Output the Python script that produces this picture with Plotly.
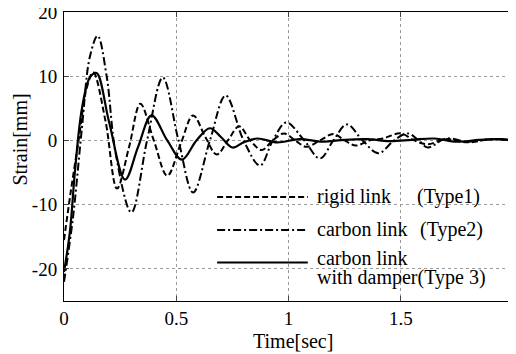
import plotly.graph_objects as go

# Type1: rigid link (dashed)
t_rigid = [0, 0.03, 0.065, 0.10, 0.13, 0.185, 0.236, 0.29, 0.34, 0.40, 0.46, 0.52, 0.575, 0.63, 0.68, 0.73, 0.78,
           0.83, 0.88, 0.93, 0.98, 1.03, 1.08, 1.14, 1.20, 1.25, 1.30, 1.36, 1.42, 1.50, 1.56, 1.62, 1.70, 1.80, 1.90, 2.0]
v_rigid = [-15.5, -8, 0, 8, 10.6, 3, -7.5, -1, 5.7, 0, -5.5, -0.5, 3.9, 0.5, -2.2, 0, 2.2,
           0, -1.5, 0, 1.1, 0, -1.0, 0, 1.0, 0, -0.8, 0, 0.3, 1.1, 0, -0.6, 0.2, -0.3, 0.2, 0]

# Type2: carbon link (dash-dot)
t_carbon = [0, 0.04, 0.08, 0.115, 0.15, 0.19, 0.23, 0.30, 0.37, 0.44, 0.51, 0.575, 0.65, 0.72, 0.80, 0.873, 0.93,
            0.99, 1.07, 1.14, 1.20, 1.26, 1.33, 1.40, 1.47, 1.53, 1.58, 1.62, 1.70, 1.80, 1.90, 2.0]
v_carbon = [-22, -12, 2, 13, 16.3, 10, -2, -11.2, 0, 9.8, 0, -8.1, 0, 7.0, 0, -3.9, 0,
            2.8, 0, -2.8, 0, 2.5, 0, -2.0, 0, 1.1, 0, -1.1, 0.3, -0.2, 0.2, 0]

# Type3: carbon link with damper (solid)
t_damper = [0, 0.027, 0.049, 0.08, 0.115, 0.145, 0.20, 0.272, 0.33, 0.39, 0.46, 0.525, 0.59, 0.65, 0.70, 0.75, 0.80,
            0.86, 0.95, 1.05, 1.15, 1.25, 1.35, 1.45, 1.55, 1.65, 1.75, 1.85, 1.95, 2.0]
v_damper = [-20.5, -14, -4.7, 5, 9.8, 10.5, 3, -6.1, -1, 3.9, 0, -3.0, 0, 1.9, 0.5, -1.1, -0.3,
            0.3, -0.3, 0.2, -0.2, 0.1, 0.2, -0.1, 0.1, 0.3, -0.2, 0.1, 0.2, 0]

x_ticks = [0, 0.5, 1, 1.5, 2]
x_labels = ["0", "0.5", "1", "1.5", "2"]
y_ticks = [20, 10, 0, -10, -20]
y_labels = ["20", "10", "0", "-10", "-20"]

FONT = "Liberation Serif, Times New Roman, serif"
FS = 20
TFS = 19

fig = go.Figure()
fig.add_trace(go.Scatter(x=t_rigid, y=v_rigid, mode="lines",
                         line=dict(color="black", width=2, dash="6px,3px", shape="spline", smoothing=1)))
fig.add_trace(go.Scatter(x=t_carbon, y=v_carbon, mode="lines",
                         line=dict(color="black", width=2, dash="8px,3px,2px,3px", shape="spline", smoothing=1)))
fig.add_trace(go.Scatter(x=t_damper, y=v_damper, mode="lines",
                         line=dict(color="black", width=2.2, shape="spline", smoothing=1)))

# manual legend
rows = [(0.360, "6px,3px"), (0.246, "8px,3px,2px,3px"), (0.133, "solid")]
for yy, d in rows:
    fig.add_shape(type="line", xref="paper", yref="paper", x0=0.341, x1=0.543, y0=yy, y1=yy,
                  line=dict(color="black", width=2, dash=d))
ann = [
    (0.562, 0.362, "rigid link"),
    (0.785, 0.362, "(Type1)"),
    (0.562, 0.248, "carbon link"),
    (0.790, 0.248, "(Type2)"),
    (0.562, 0.150, "carbon link"),
    (0.562, 0.083, "with damper(Type 3)"),
]
for xx, yy, txt in ann:
    fig.add_annotation(x=xx, y=yy, xref="paper", yref="paper", text=txt, showarrow=False,
                       xanchor="left", yanchor="middle", font=dict(family=FONT, size=FS, color="black"),
                       borderpad=0)

# axis titles
fig.add_annotation(x=0.51, y=-0.137, xref="paper", yref="paper", text="Time[sec]", showarrow=False,
                   xanchor="center", yanchor="middle", font=dict(family=FONT, size=FS, color="black"))
fig.add_annotation(x=-0.099, y=0.557, xref="paper", yref="paper", text="Strain[mm]", showarrow=False,
                   textangle=-90, xanchor="center", yanchor="middle",
                   font=dict(family=FONT, size=FS, color="black"))

fig.update_layout(
    width=516, height=346, showlegend=False,
    margin=dict(l=56, r=11, t=4, b=53),
    paper_bgcolor="white", plot_bgcolor="white",
    font=dict(family=FONT, size=FS, color="black"),
)
fig.update_xaxes(range=[0, 2], tickvals=x_ticks, ticktext=x_labels, ticks="inside", ticklen=5,
                 showline=True, linecolor="black", linewidth=1, mirror="ticks",
                 showgrid=True, gridcolor="#999", griddash="dot", gridwidth=1, zeroline=False,
                 automargin=False, ticklabeloverflow="allow", ticklabelstandoff=0,
                 tickfont=dict(family=FONT, size=TFS, color="black"))
fig.update_yaxes(range=[-25, 20], tickvals=y_ticks, ticktext=y_labels, ticks="inside", ticklen=5,
                 showline=True, linecolor="black", linewidth=1, mirror="ticks",
                 showgrid=True, gridcolor="#999", griddash="dot", gridwidth=1, zeroline=False,
                 automargin=False, ticklabeloverflow="allow", ticklabelstandoff=2,
                 tickfont=dict(family=FONT, size=TFS, color="black"))

fig.write_html("out.html")
